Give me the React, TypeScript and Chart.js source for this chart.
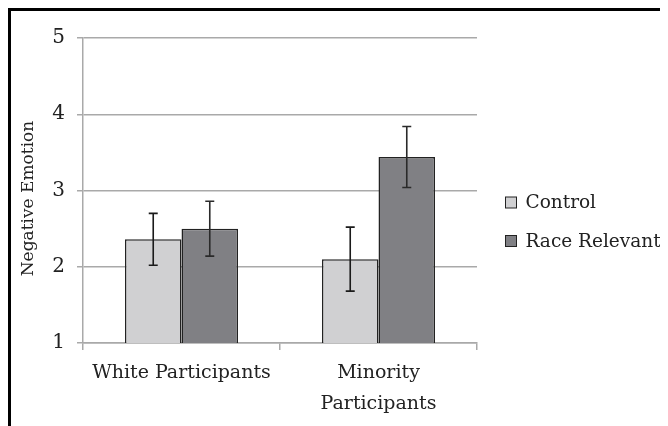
import React, { useEffect, useRef } from "react";
import { Chart, registerables } from "chart.js";

Chart.register(...registerables);

const categories = [["White Participants"], ["Minority", "Participants"]];
const seriesNames = ["Control", "Race Relevant"];
const controlMeans = [2.36, 2.1];
const raceRelevantMeans = [2.5, 3.44];
const controlErrors = [0.34, 0.42];
const raceRelevantErrors = [0.36, 0.4];
const yTicks = [1, 2, 3, 4, 5];

const FONT = "'DejaVu Serif', serif";
const FS = 19;
const TEXT = "#222222";
const GRID = "#a9a9a9";

const errorBarPlugin = {
  id: "errorBars",
  afterDatasetsDraw(chart: any) {
    const ctx = chart.ctx;
    const y = chart.scales.y;
    chart.data.datasets.forEach((ds: any, di: number) => {
      const meta = chart.getDatasetMeta(di);
      meta.data.forEach((bar: any, i: number) => {
        const v = ds.data[i];
        const e = ds.errors[i];
        const x = bar.x;
        const yt = y.getPixelForValue(v + e);
        const yb = y.getPixelForValue(v - e);
        ctx.save();
        ctx.strokeStyle = ds.errorColor;
        ctx.lineWidth = 1.6;
        ctx.beginPath();
        ctx.moveTo(x, yt);
        ctx.lineTo(x, yb);
        ctx.moveTo(x - 4.5, yt);
        ctx.lineTo(x + 4.5, yt);
        ctx.moveTo(x - 4.5, yb);
        ctx.lineTo(x + 4.5, yb);
        ctx.stroke();
        ctx.restore();
      });
    });
  },
};

const legendAndTitlePlugin = {
  id: "customLegendTitle",
  afterDraw(chart: any) {
    const ctx = chart.ctx;
    const area = chart.chartArea;
    ctx.save();
    ctx.fillStyle = TEXT;
    ctx.font = `17px ${FONT}`;
    ctx.textAlign = "center";
    ctx.textBaseline = "middle";
    ctx.translate(18, (area.top + area.bottom) / 2 + 8);
    ctx.rotate(-Math.PI / 2);
    ctx.fillText("Negative Emotion", 0, 0);
    ctx.restore();

    ctx.save();
    ctx.font = `18.5px ${FONT}`;
    ctx.textBaseline = "middle";
    ctx.textAlign = "left";
    chart.data.datasets.forEach((ds: any, i: number) => {
      const cy = 191.5 + i * 38.5;
      const bx = area.right + 28.5;
      ctx.fillStyle = ds.backgroundColor;
      ctx.fillRect(bx, cy - 5.5, 11, 11);
      ctx.strokeStyle = "#222";
      ctx.lineWidth = 1;
      ctx.strokeRect(bx, cy - 5.5, 11, 11);
      ctx.fillStyle = TEXT;
      ctx.fillText(ds.label, bx + 20, cy + 1);
    });
    ctx.restore();
  },
};

export default function App() {
  const ref = useRef<HTMLCanvasElement | null>(null);
  useEffect(() => {
    if (!ref.current) return;
    const chart = new Chart(ref.current, {
      type: "bar",
      data: {
        labels: categories,
        datasets: [
          {
            label: seriesNames[0],
            data: controlMeans,
            errors: controlErrors,
            errorColor: "#1a1a1a",
            backgroundColor: "#d0d0d2",
            borderColor: "#222222",
            borderWidth: 1.5,
            categoryPercentage: 0.574,
            barPercentage: 1,
          } as any,
          {
            label: seriesNames[1],
            data: raceRelevantMeans,
            errors: raceRelevantErrors,
            errorColor: "#2a2a2a",
            backgroundColor: "#808084",
            borderColor: "#222222",
            borderWidth: 1.5,
            categoryPercentage: 0.574,
            barPercentage: 1,
          } as any,
        ],
      },
      options: {
        animation: false,
        responsive: false,
        maintainAspectRatio: false,
        layout: { padding: { left: 0, top: 27, right: 191, bottom: 0 } },
        plugins: {
          legend: { display: false },
          tooltip: { enabled: false },
        },
        scales: {
          x: {
            border: { display: true, color: GRID, width: 1.5 },
            grid: {
              display: true,
              drawOnChartArea: false,
              drawTicks: true,
              tickLength: 7,
              color: GRID,
              lineWidth: 1.5,
              offset: true,
            },
            ticks: {
              color: TEXT,
              font: { family: FONT, size: FS, lineHeight: 1.6 },
              padding: 8,
              maxRotation: 0,
              autoSkip: false,
            },
            afterFit(scale: any) {
              scale.height = 83;
            },
          },
          y: {
            min: 1,
            max: 5,
            afterBuildTicks(scale: any) {
              scale.ticks = yTicks.map((v) => ({ value: v }));
            },
            border: { display: true, color: GRID, width: 1.5 },
            grid: {
              color: GRID,
              lineWidth: 1.5,
              tickLength: 6,
            },
            ticks: {
              color: TEXT,
              font: { family: FONT, size: 20 },
              padding: 12,
            },
            afterFit(scale: any) {
              scale.width = 72;
            },
          },
        },
      },
      plugins: [errorBarPlugin, legendAndTitlePlugin],
    });
    return () => chart.destroy();
  }, []);
  return (
    <div
      style={{
        width: 657,
        height: 415,
        borderTop: "3px solid #000",
        borderLeft: "3px solid #000",
        overflow: "hidden",
        background: "#fff",
      }}
    >
      <canvas ref={ref} width={657} height={415} style={{ display: "block" }} />
    </div>
  );
}
